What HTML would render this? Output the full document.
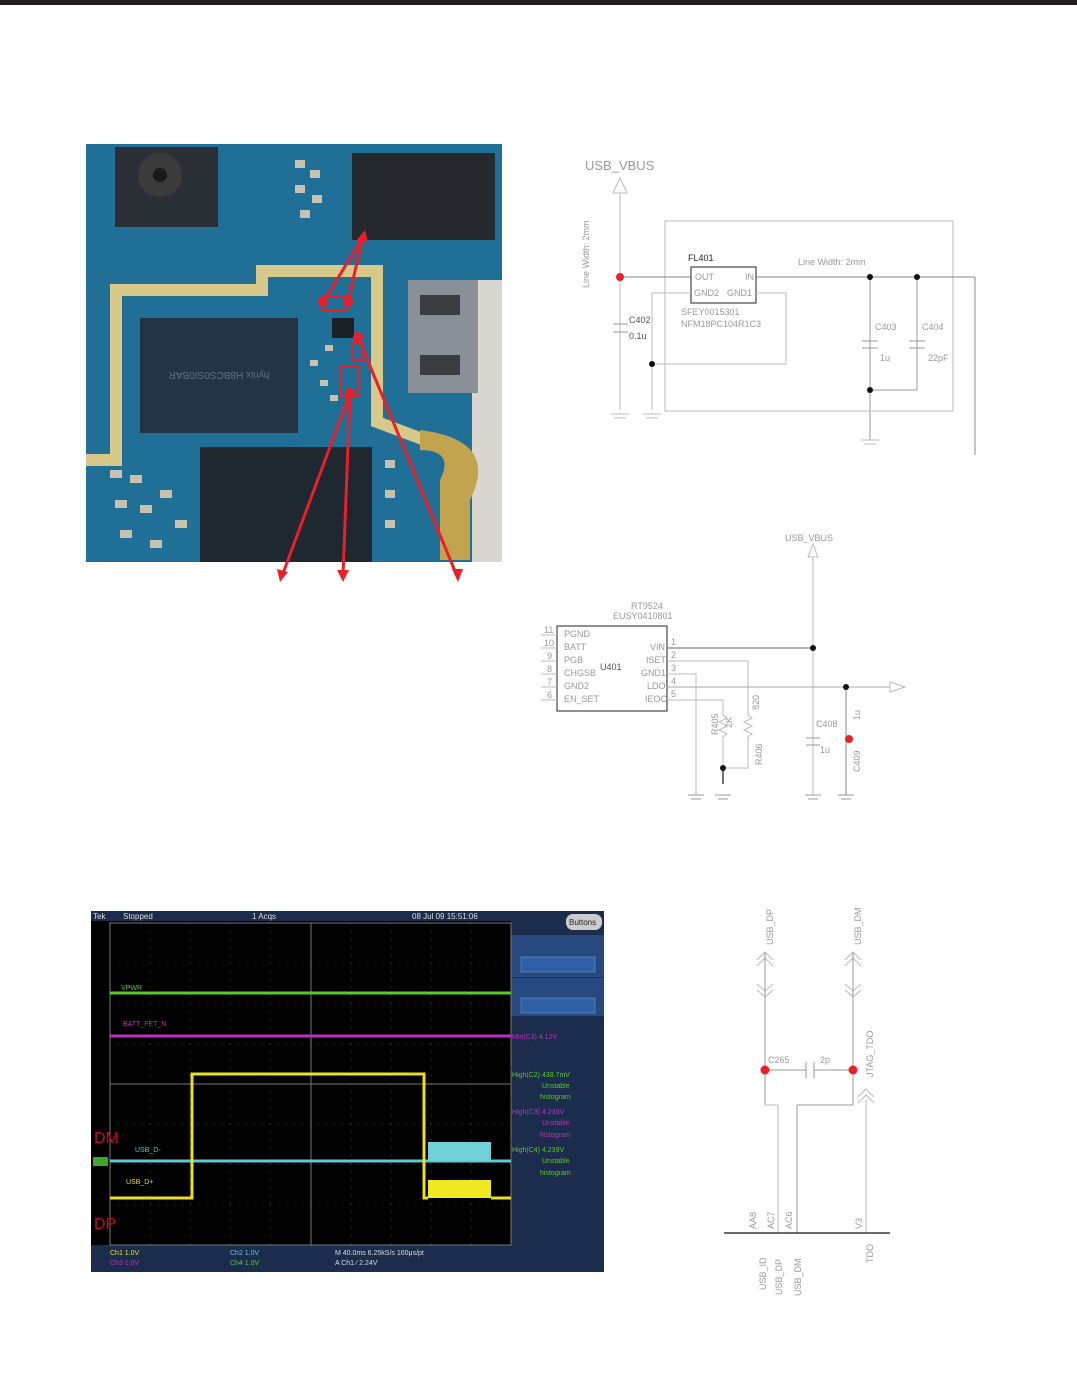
<!DOCTYPE html>
<html><head><meta charset="utf-8"><style>
body{margin:0;background:#fff;}
svg{display:block;font-family:"Liberation Sans",sans-serif;}
.g{stroke:#bbb;stroke-width:1;fill:none}
.k{stroke:#222;stroke-width:1;fill:none}
.t{fill:#999;font-size:9px}
</style></head><body>
<svg width="1077" height="1374" viewBox="0 0 1077 1374">
<rect x="0" y="0" width="1077" height="5" fill="#231f20"/>

<!-- PHOTO -->
<rect x="86" y="144" width="416" height="418" fill="#1f6f96"/>
<rect x="472" y="280" width="30" height="282" fill="#d9d6cf"/>
<polyline points="86,460 116,460 116,290 262,290 262,271 377,271 377,422 425,440" stroke="#d8c98a" stroke-width="12" fill="none" stroke-linejoin="miter"/>
<rect x="115" y="147" width="103" height="80" fill="#2a2f35"/>
<circle cx="160" cy="175" r="22" fill="#3b3b3b"/><circle cx="160" cy="175" r="7" fill="#1a1a1a"/>
<rect x="352" y="153" width="143" height="87" fill="#25282c"/>
<rect x="408" y="280" width="70" height="113" fill="#8a9098"/>
<rect x="420" y="295" width="40" height="20" fill="#3a3d40"/><rect x="420" y="355" width="40" height="20" fill="#3a3d40"/>
<rect x="140" y="318" width="158" height="115" fill="#243444"/>
<text x="219" y="378" fill="#607080" font-size="10" text-anchor="middle" transform="rotate(180 219 375)">hynix H8BCS0SI0BAR</text>
<rect x="200" y="447" width="172" height="115" fill="#1f2730"/>
<rect x="332" y="318" width="22" height="20" fill="#1a2025"/>
<path d="M420,430 Q500,440 470,500 L470,560 L440,560 L440,480 Q455,450 420,450Z" fill="#c2a450"/>
<g fill="#c8c0b0">
<rect x="110" y="470" width="12" height="8"/><rect x="130" y="475" width="12" height="8"/><rect x="115" y="500" width="12" height="8"/><rect x="140" y="505" width="12" height="8"/><rect x="160" y="490" width="12" height="8"/><rect x="120" y="530" width="12" height="8"/><rect x="150" y="540" width="12" height="8"/><rect x="175" y="520" width="12" height="8"/>
<rect x="295" y="160" width="10" height="8"/><rect x="310" y="170" width="10" height="8"/><rect x="295" y="185" width="10" height="8"/><rect x="312" y="195" width="10" height="8"/><rect x="300" y="210" width="10" height="8"/>
<rect x="325" y="345" width="8" height="6"/><rect x="310" y="360" width="8" height="6"/><rect x="320" y="380" width="8" height="6"/><rect x="330" y="395" width="8" height="6"/>
<rect x="385" y="460" width="10" height="8"/><rect x="385" y="490" width="10" height="8"/><rect x="385" y="520" width="10" height="8"/>
</g>
<g stroke="#e8202a" stroke-width="3" fill="none">
<line x1="323" y1="302" x2="364" y2="236"/><line x1="348" y1="302" x2="363" y2="236"/>
<line x1="358" y1="337" x2="457" y2="576"/><line x1="350" y1="393" x2="343" y2="576"/><line x1="350" y1="393" x2="282" y2="576"/>
<rect x="323" y="296" width="24" height="14" stroke-width="2"/><rect x="352" y="343" width="11" height="17" stroke-width="2"/><rect x="341" y="367" width="18" height="30" stroke-width="2"/>
</g>
<g fill="#e8202a">
<circle cx="323" cy="302" r="5"/><circle cx="348" cy="302" r="5"/><circle cx="358" cy="337" r="5"/><circle cx="350" cy="393" r="5"/>
<polygon points="365,230 356,241 368,242"/>
<polygon points="458,582 452,569 463,569"/><polygon points="343,582 337,570 349,570"/><polygon points="280,582 277,569 288,572"/>
</g>

<!-- TOP SCHEMATIC -->
<text x="585" y="170" fill="#999" font-size="13">USB_VBUS</text>
<polygon points="620,178 613,193 627,193" class="g"/>
<line x1="620" y1="193" x2="620" y2="410" class="g"/>
<text class="t" font-size="10" transform="translate(589,288) rotate(-90)">Line Width: 2mm</text>
<rect x="665" y="221" width="288" height="190" class="g"/>
<line x1="620" y1="277" x2="691" y2="277" stroke="#888"/>
<line x1="756" y1="277" x2="975" y2="277" stroke="#888"/>
<line x1="975" y1="277" x2="975" y2="455" stroke="#888"/>
<rect x="691" y="267" width="65" height="36" class="k"/>
<text x="688" y="261" font-size="9" fill="#222">FL401</text>
<text x="695" y="280" class="t" font-size="8">OUT</text><text x="745" y="280" class="t" font-size="8">IN</text>
<text x="694" y="296" class="t" font-size="8">GND2</text><text x="727" y="296" class="t" font-size="8">GND1</text>
<text x="681" y="315" class="t" font-size="8">SFEY0015301</text><text x="681" y="327" class="t" font-size="8">NFM18PC104R1C3</text>
<text x="798" y="265" class="t" font-size="10">Line Width: 2mm</text>
<polyline points="691,293 652,293 652,410" class="g" stroke="#999"/>
<polyline points="756,293 786,293 786,364 652,364" class="g"/>
<line x1="613" y1="324" x2="628" y2="324" stroke="#999"/><line x1="613" y1="332" x2="628" y2="332" stroke="#999"/>
<text x="629" y="323" font-size="9" fill="#555">C402</text><text x="629" y="339" font-size="9" fill="#555">0.1u</text>
<line x1="611" y1="414" x2="629" y2="414" stroke="#bbb"/><line x1="614" y1="418" x2="626" y2="418" stroke="#bbb"/>
<line x1="643" y1="414" x2="661" y2="414" stroke="#bbb"/><line x1="646" y1="418" x2="658" y2="418" stroke="#bbb"/>
<line x1="870" y1="277" x2="870" y2="440" stroke="#ccc" stroke-width="2"/>
<polyline points="917,277 917,390 870,390" stroke="#999" fill="none"/>
<line x1="862" y1="341" x2="878" y2="341" stroke="#999"/><line x1="862" y1="348" x2="878" y2="348" stroke="#999"/>
<line x1="909" y1="341" x2="925" y2="341" stroke="#999"/><line x1="909" y1="348" x2="925" y2="348" stroke="#999"/>
<text x="875" y="330" class="t" font-size="10">C403</text><text x="880" y="361" class="t" font-size="10">1u</text>
<text x="922" y="330" class="t" font-size="10">C404</text><text x="928" y="361" class="t" font-size="10">22pF</text>
<line x1="861" y1="440" x2="879" y2="440" stroke="#bbb"/><line x1="864" y1="444" x2="876" y2="444" stroke="#bbb"/>
<circle cx="620" cy="277" r="4" fill="#e8202a"/>
<g fill="#111"><circle cx="652" cy="364" r="3"/><circle cx="870" cy="277" r="3"/><circle cx="917" cy="277" r="3"/><circle cx="870" cy="390" r="3"/></g>

<!-- MIDDLE SCHEMATIC -->
<text x="785" y="541" class="t" font-size="10">USB_VBUS</text>
<polygon points="813,544 808,557 818,557" class="g"/>
<line x1="813" y1="557" x2="813" y2="795" class="g"/>
<text x="631" y="609" class="t" font-size="8">RT9524</text><text x="613" y="619" class="t" font-size="8">EUSY0410801</text>
<rect x="557" y="626" width="110" height="85" class="k" stroke-width="1.2"/>
<text x="600" y="670" font-size="9" fill="#555">U401</text>
<g class="t" font-size="7">
<text x="544" y="633">11</text><text x="544" y="646">10</text><text x="547" y="659">9</text><text x="547" y="672">8</text><text x="547" y="685">7</text><text x="547" y="698">6</text>
<text x="564" y="637">PGND</text><text x="564" y="650">BATT</text><text x="564" y="663">PGB</text><text x="564" y="676">CHGSB</text><text x="564" y="689">GND2</text><text x="564" y="702">EN_SET</text>
<text x="650" y="650">VIN</text><text x="646" y="663">ISET</text><text x="641" y="676">GND1</text><text x="647" y="689">LDO</text><text x="645" y="702">IEOC</text>
<text x="671" y="645">1</text><text x="671" y="658">2</text><text x="671" y="671">3</text><text x="671" y="684">4</text><text x="671" y="697">5</text>
</g>
<g stroke="#bbb"><line x1="541" y1="635" x2="557" y2="635"/><line x1="541" y1="648" x2="557" y2="648"/><line x1="541" y1="661" x2="557" y2="661"/><line x1="541" y1="674" x2="557" y2="674"/><line x1="541" y1="687" x2="557" y2="687"/><line x1="541" y1="700" x2="557" y2="700"/></g>
<line x1="667" y1="648" x2="813" y2="648" stroke="#666"/>
<polyline points="667,661 748,661 748,715" class="g"/>
<polyline points="748,715 752,718 744,722 752,726 744,730 752,734 748,737 748,768 723,768" class="g" stroke="#999"/>
<polyline points="667,674 696,674 696,795" class="g" stroke="#999"/>
<line x1="667" y1="687" x2="890" y2="687" stroke="#aaa"/>
<polygon points="890,682 905,687 890,692" class="g"/>
<line x1="846" y1="687" x2="846" y2="795" stroke="#888"/>
<polyline points="667,700 723,700 723,715 727,718 719,722 727,726 719,730 727,734 723,737 723,768" class="g" stroke="#999"/>
<line x1="723" y1="768" x2="723" y2="784" stroke="#111" stroke-width="1.2"/>
<line x1="806" y1="738" x2="820" y2="738" stroke="#999"/><line x1="806" y1="745" x2="820" y2="745" stroke="#999"/>
<text x="816" y="727" class="t" font-size="9">C408</text><text x="820" y="753" class="t" font-size="9">1u</text>
<text class="t" font-size="7" transform="translate(860,720) rotate(-90)">1u</text>
<text class="t" font-size="7" transform="translate(860,772) rotate(-90)">C409</text>
<text class="t" font-size="7" transform="translate(718,735) rotate(-90)">R405</text>
<text class="t" font-size="7" transform="translate(732,728) rotate(-90)">2K</text>
<text class="t" font-size="7" transform="translate(759,710) rotate(-90)">820</text>
<text class="t" font-size="7" transform="translate(762,765) rotate(-90)">R406</text>
<g stroke="#999"><line x1="688" y1="795" x2="704" y2="795"/><line x1="691" y1="799" x2="701" y2="799"/>
<line x1="715" y1="795" x2="731" y2="795"/><line x1="718" y1="799" x2="728" y2="799"/>
<line x1="805" y1="795" x2="821" y2="795"/><line x1="808" y1="799" x2="818" y2="799"/>
<line x1="838" y1="795" x2="854" y2="795"/><line x1="841" y1="799" x2="851" y2="799"/></g>
<g fill="#111"><circle cx="813" cy="648" r="3"/><circle cx="846" cy="687" r="3"/><circle cx="723" cy="768" r="3"/></g>
<circle cx="849" cy="739" r="4" fill="#e8202a"/>

<!-- SCOPE -->
<rect x="91" y="911" width="513" height="361" fill="#1c2c4c"/>
<rect x="91" y="921" width="420" height="324" fill="#000"/>
<rect x="511" y="935" width="93" height="42" fill="#264a80"/><rect x="521" y="957" width="74" height="15" fill="#2f5fa8" stroke="#8ab" stroke-width="0.5"/>
<rect x="511" y="978" width="93" height="38" fill="#264a80"/><rect x="521" y="998" width="74" height="15" fill="#2f5fa8" stroke="#8ab" stroke-width="0.5"/>
<rect x="566" y="914" width="36" height="16" rx="7" fill="#ccc"/><text x="569" y="925" font-size="8" fill="#222">Buttons</text>
<g font-size="8" fill="#ddd"><text x="93" y="919">Tek</text><text x="123" y="919">Stopped</text><text x="252" y="919">1 Acqs</text><text x="412" y="919">08 Jul 09 15:51:06</text></g>
<g stroke="#555" stroke-width="0.8" stroke-dasharray="1 7">
<line x1="150" y1="923" x2="150" y2="1245"/><line x1="190" y1="923" x2="190" y2="1245"/><line x1="230" y1="923" x2="230" y2="1245"/><line x1="270" y1="923" x2="270" y2="1245"/><line x1="351" y1="923" x2="351" y2="1245"/><line x1="391" y1="923" x2="391" y2="1245"/><line x1="431" y1="923" x2="431" y2="1245"/><line x1="471" y1="923" x2="471" y2="1245"/>
<line x1="110" y1="963" x2="511" y2="963"/><line x1="110" y1="1003" x2="511" y2="1003"/><line x1="110" y1="1044" x2="511" y2="1044"/><line x1="110" y1="1124" x2="511" y2="1124"/><line x1="110" y1="1164" x2="511" y2="1164"/><line x1="110" y1="1205" x2="511" y2="1205"/>
</g>
<g stroke="#777" stroke-width="1"><line x1="311" y1="923" x2="311" y2="1245"/><line x1="110" y1="1084" x2="511" y2="1084"/><rect x="110" y="923" width="401" height="322" fill="none"/></g>
<line x1="110" y1="993" x2="511" y2="993" stroke="#5ac82a" stroke-width="3"/>
<line x1="110" y1="1036" x2="511" y2="1036" stroke="#c030c0" stroke-width="3"/>
<line x1="110" y1="1161" x2="511" y2="1161" stroke="#60c8d0" stroke-width="3"/>
<rect x="428" y="1142" width="63" height="19" fill="#70d0d8"/>
<polyline points="110,1198 192,1198 192,1074 424,1074 424,1198 428,1198" stroke="#e8e020" stroke-width="3" fill="none"/>
<rect x="428" y="1180" width="63" height="18" fill="#f0e820"/>
<line x1="491" y1="1198" x2="511" y2="1198" stroke="#e8e020" stroke-width="3"/>
<g font-size="7"><text x="121" y="990" fill="#5ac82a">VPWR</text><text x="123" y="1026" fill="#c030c0">BATT_FET_N</text>
<text x="135" y="1152" fill="#60c8d0">USB_D-</text><text x="126" y="1184" fill="#e8e020">USB_D+</text></g>
<text x="94" y="1143" font-size="16" fill="#c0101a">DM</text><text x="94" y="1229" font-size="16" fill="#c0101a">DP</text>
<rect x="93" y="1157" width="15" height="9" fill="#3aa82a"/>
<g font-size="7"><text x="512" y="1039" fill="#c030c0">Min(C3)   4.12V</text>
<text x="512" y="1077" fill="#5ac82a">High(C2)   438.7mV</text><text x="542" y="1088" fill="#5ac82a">Unstable</text><text x="540" y="1099" fill="#5ac82a">histogram</text>
<text x="512" y="1114" fill="#c030c0">High(C3)   4.239V</text><text x="542" y="1125" fill="#c030c0">Unstable</text><text x="540" y="1137" fill="#c030c0">histogram</text>
<text x="512" y="1152" fill="#5ac82a">High(C4)   4.239V</text><text x="542" y="1163" fill="#5ac82a">Unstable</text><text x="540" y="1175" fill="#5ac82a">histogram</text>
<text x="110" y="1255" fill="#e8e020">Ch1     1.0V</text><text x="110" y="1265" fill="#c030c0">Ch3     1.0V</text>
<text x="230" y="1255" fill="#60c8d0">Ch2     1.0V</text><text x="230" y="1265" fill="#5ac82a">Ch4     1.0V</text>
<text x="335" y="1255" fill="#ddd">M 40.0ms 6.25kS/s     160μs/pt</text><text x="335" y="1265" fill="#ddd">A  Ch1   ⁄  2.24V</text></g>
<g stroke="#1c2c4c"><line x1="511" y1="1067" x2="604" y2="1067"/><line x1="511" y1="1104" x2="604" y2="1104"/><line x1="511" y1="1142" x2="604" y2="1142"/></g>

<!-- BOTTOM SCHEMATIC -->
<text class="t" font-size="11" transform="translate(773,945) rotate(-90)">USB_DP</text>
<text class="t" font-size="11" transform="translate(861,945) rotate(-90)">USB_DM</text>
<text class="t" font-size="11" transform="translate(873,1077) rotate(-90)">JTAG_TDO</text>
<g class="g" stroke="#aaa">
<polyline points="757,960 765,952 773,960"/><polyline points="757,966 765,958 773,966"/><polyline points="757,990 765,997 773,990"/><polyline points="757,984 765,991 773,984"/>
<polyline points="845,960 853,952 861,960"/><polyline points="845,966 853,958 861,966"/><polyline points="845,990 853,997 861,990"/><polyline points="845,984 853,991 861,984"/>
<polyline points="858,1097 866,1089 874,1097"/><polyline points="858,1103 866,1095 874,1103"/>
</g>
<line x1="765" y1="952" x2="765" y2="1105" stroke="#999"/>
<line x1="853" y1="952" x2="853" y2="1105" stroke="#999"/>
<polyline points="765,1105 778,1105 778,1233" class="g"/>
<polyline points="853,1105 797,1105 797,1233" stroke="#999" fill="none"/>
<line x1="866" y1="1100" x2="866" y2="1233" class="g"/>
<line x1="765" y1="1070" x2="806" y2="1070" stroke="#999"/><line x1="814" y1="1070" x2="853" y2="1070" stroke="#999"/>
<line x1="806" y1="1062" x2="806" y2="1078" stroke="#999"/><line x1="814" y1="1062" x2="814" y2="1078" stroke="#999"/>
<text x="768" y="1063" class="t" font-size="11">C265</text><text x="820" y="1063" class="t" font-size="11">2p</text>
<circle cx="765" cy="1070" r="4.5" fill="#e8202a"/><circle cx="853" cy="1070" r="4.5" fill="#e8202a"/>
<line x1="724" y1="1233" x2="890" y2="1233" stroke="#111" stroke-width="1.2"/>
<g class="t" font-size="10">
<text transform="translate(756,1229) rotate(-90)">AA8</text><text transform="translate(774,1229) rotate(-90)">AC7</text>
<text transform="translate(792,1229) rotate(-90)">AC6</text><text transform="translate(862,1229) rotate(-90)">V3</text>
<text transform="translate(766,1290) rotate(-90)">USB_ID</text><text transform="translate(782,1295) rotate(-90)">USB_DP</text>
<text transform="translate(801,1296) rotate(-90)">USB_DM</text><text transform="translate(873,1263) rotate(-90)">TDO</text>
</g>
</svg>
</body></html>
